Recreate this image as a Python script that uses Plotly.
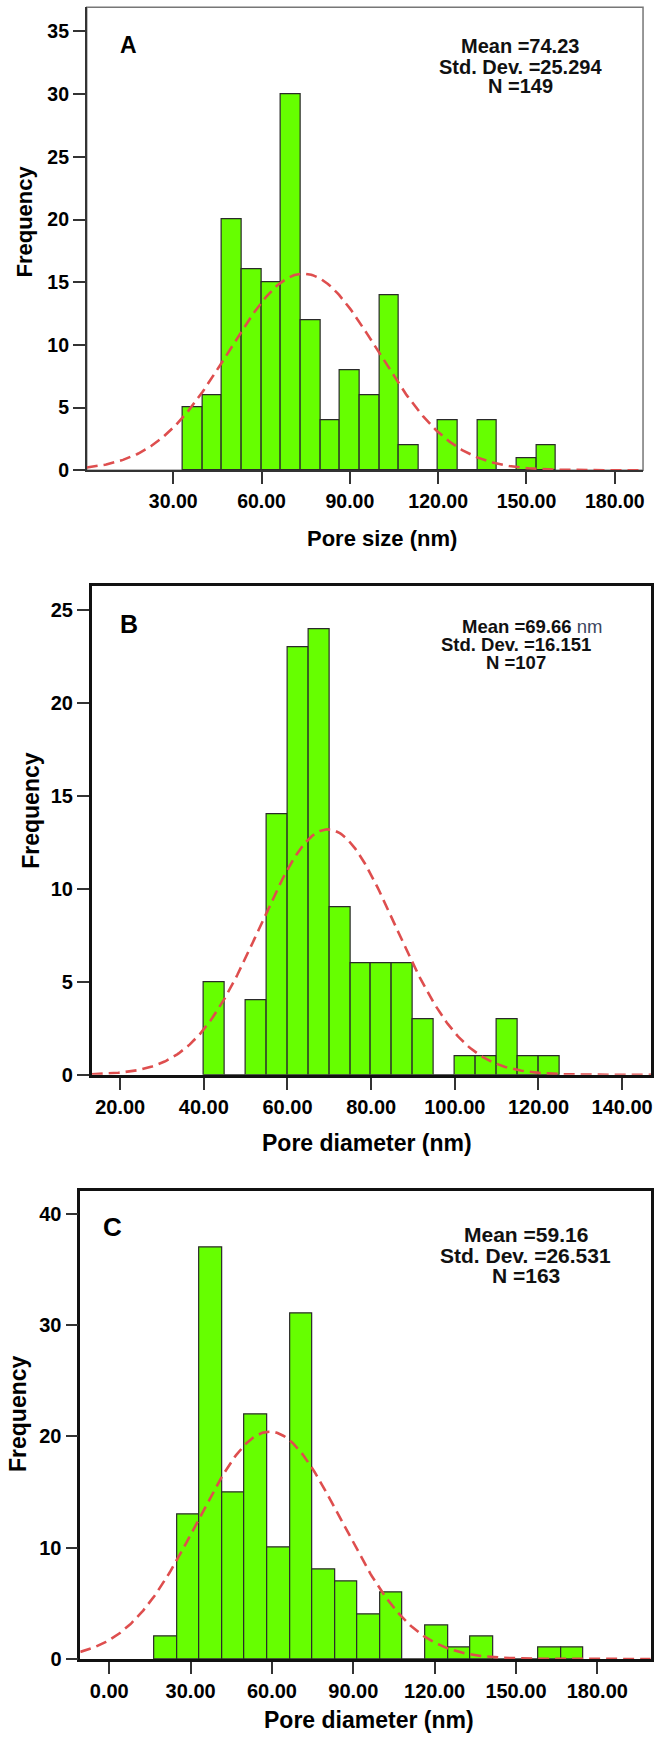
import numpy as np
import plotly.graph_objects as go

W, H = 656, 1746

# A: pore size histogram (SPSS style, normal curve overlaid)
a_counts = [5, 6, 20, 16, 15, 30, 12, 4, 8, 6, 14, 2, 0, 4, 0, 4, 0, 1, 2]
a_start, a_width = 33.25, 6.674
a_mean, a_sd, a_n = 74.23, 25.294, 149

# B: pore diameter
b_counts = [5, 0, 4, 14, 23, 24, 9, 6, 6, 6, 3, 0, 1, 1, 3, 1, 1]
b_start, b_width = 40.0, 5.0
b_mean, b_sd, b_n = 69.66, 16.151, 107

# C: pore diameter
c_counts = [2, 13, 37, 15, 22, 10, 31, 8, 7, 4, 6, 0, 3, 1, 2, 0, 0, 1, 1]
c_start, c_width = 16.6, 8.33
c_mean, c_sd, c_n = 59.16, 26.531, 163

GREEN = "#66FF00"
RED = "rgb(222,78,78)"
FONT = "Liberation Sans, Arial, sans-serif"


def px(x):
    return x / W


def py(y):
    return 1 - y / H


panels = [
    dict(tag="", letter="A", counts=a_counts, start=a_start, bw=a_width,
         mean=a_mean, sd=a_sd, n=a_n,
         box=(87, 645, 7.3, 473.3), xr=[0.6, 189.6], yr=[0, 36.93],
         xt=30, yt=5, xt0=30, tick=19.5, title="Pore size (nm)",
         xtitle=(383, 542), ytitle=(25, 223), tsize=22, let=(129, 45, 23),
         stats=["<b>Mean =74.23</b>", "<b>Std. Dev. =25.294</b>", "<b>N =149</b>"],
         sxy=(522, [46.5, 67, 87]), ssize=20, frame=("#777", 1.5), axcol="#333", axw=1.6),
    dict(tag="2", letter="B", counts=b_counts, start=b_start, bw=b_width,
         mean=b_mean, sd=b_sd, n=b_n,
         box=(92, 653, 590, 1081.6), xr=[13.2, 146.9], yr=[0, 26.3],
         xt=20, yt=5, xt0=20, tick=20, title="Pore diameter (nm)",
         xtitle=(368, 1150), ytitle=(31, 815), tsize=23, let=(129, 628, 25),
         stats=["<b>Mean =69.66</b> <span style='color:#3b4660'>nm</span>",
                "<b>Std. Dev. =16.151</b>", "<b>N =107</b>"],
         sxy=([534, 518, 518], [630, 648.5, 667]), ssize=18.5, frame=("#111", 2.5), axcol="#111", axw=2.5),
    dict(tag="3", letter="C", counts=c_counts, start=c_start, bw=c_width,
         mean=c_mean, sd=c_sd, n=c_n,
         box=(80.5, 652.7, 1199, 1669.5), xr=[-10.7, 199.7], yr=[0, 42.0],
         xt=30, yt=10, xt0=0, tick=20, title="Pore diameter (nm)",
         xtitle=(370, 1731), ytitle=(18, 1422), tsize=23, let=(113, 1235, 26),
         stats=["<b>Mean =59.16</b>", "<b>Std. Dev. =26.531</b>", "<b>N =163</b>"],
         sxy=(527.5, [1242.5, 1263, 1284]), ssize=21, frame=("#111", 2.5), axcol="#111", axw=2.5),
]

fig = go.Figure()
annotations = []
shapes = []
layout = {}


def note(text, x, y, font, **kw):
    # centred on the given pixel position
    annotations.append(dict(text=text, x=px(x), y=py(y), xref="paper", yref="paper",
                            showarrow=False, xanchor="center", yanchor="middle",
                            font=font, **kw))


for p in panels:
    xa = "x" + p["tag"]
    ya = "y" + p["tag"]
    x0, x1, y0, y1 = p["box"]
    centers = [p["start"] + p["bw"] * (i + 0.5) for i in range(len(p["counts"]))]
    fig.add_trace(go.Bar(
        x=centers, y=p["counts"], width=p["bw"], xaxis=xa, yaxis=ya,
        marker=dict(color=GREEN, line=dict(color="#2a2a2a", width=1.2)),
        showlegend=False))
    # fitted normal curve from the printed mean / sd / N
    xs = np.linspace(p["xr"][0], p["xr"][1], 400)
    ys = p["n"] * p["bw"] * np.exp(-0.5 * ((xs - p["mean"]) / p["sd"]) ** 2) / (p["sd"] * np.sqrt(2 * np.pi))
    fig.add_trace(go.Scatter(
        x=xs, y=ys, mode="lines", xaxis=xa, yaxis=ya,
        line=dict(color=RED, width=2.6, dash="11px,6px"),
        showlegend=False))

    tickfont = dict(family=FONT, size=p["tick"], color="black", weight="bold")
    layout["xaxis" + p["tag"]] = dict(
        domain=[px(x0), px(x1)], anchor=ya, range=p["xr"],
        tickmode="linear", tick0=p["xt0"], dtick=p["xt"], tickformat=".2f",
        ticks="outside", ticklen=12, tickwidth=1.5, tickcolor="#333",
        showline=True, linecolor=p["axcol"], linewidth=p["axw"],
        mirror=(p["tag"] != ""), showgrid=False, zeroline=False, tickfont=tickfont)
    layout["yaxis" + p["tag"]] = dict(
        domain=[py(y1), py(y0)], anchor=xa, range=p["yr"],
        tickmode="linear", tick0=0, dtick=p["yt"],
        ticks="outside", ticklen=12, tickwidth=1.5, tickcolor="#333",
        showline=True, linecolor=p["axcol"], linewidth=p["axw"],
        mirror=(p["tag"] != ""), showgrid=False, zeroline=False, tickfont=tickfont)
    if p["tag"] == "":
        shapes.append(dict(type="rect", xref="x domain", yref="y domain",
                           x0=0, x1=1, y0=0, y1=1,
                           line=dict(color=p["frame"][0], width=p["frame"][1]), layer="below"))

    tf = dict(family=FONT, size=p["tsize"], color="black", weight="bold")
    note(p["title"], p["xtitle"][0], p["xtitle"][1], tf)
    note("Frequency", p["ytitle"][0], p["ytitle"][1], tf, textangle=-90)
    lx, ly, ls = p["let"]
    note("<b>" + p["letter"] + "</b>", lx, ly, dict(family=FONT, size=ls, color="black"))
    sx, sys_ = p["sxy"]
    for i, line in enumerate(p["stats"]):
        xx = sx[i] if isinstance(sx, list) else sx
        note(line, xx, sys_[i], dict(family=FONT, size=p["ssize"], color="#111"))

fig.update_layout(
    width=W, height=H, autosize=False,
    margin=dict(l=0, r=0, t=0, b=0),
    paper_bgcolor="white", plot_bgcolor="white",
    bargap=0, annotations=annotations, shapes=shapes,
    **layout)

# page body margin would push the fixed-size figure past the window
fig.write_html("out.html", config={"displayModeBar": False},
               post_script="document.body.style.margin='0';document.body.style.overflow='hidden';")
